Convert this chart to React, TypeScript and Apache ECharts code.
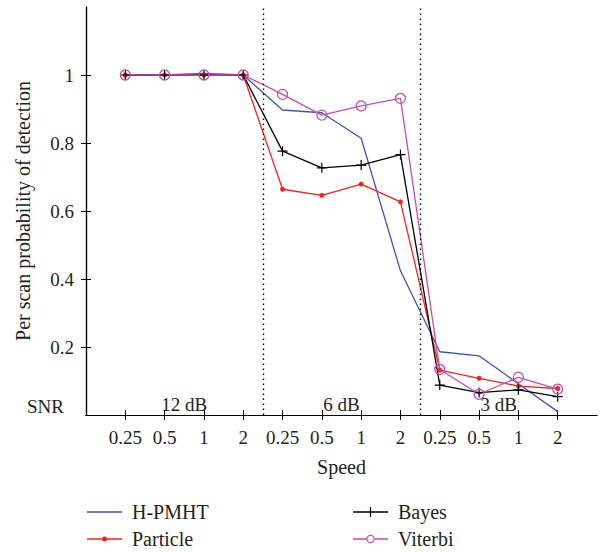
import React, { useEffect, useRef } from "react";
import * as echarts from "echarts";

const speedLabels = ["0.25", "0.5", "1", "2"];
const snrLabels = ["12 dB", "6 dB", "3 dB"];
const snrCenters = [2.5, 6.5, 10.5];
const snrLabelY = 0.03;
const xPositions = [1, 2, 3, 4, 5, 6, 7, 8, 9, 10, 11, 12];
const yTicks = [0.2, 0.4, 0.6, 0.8, 1];
const separators = [4.5, 8.5];

const hpmht = [1.0, 1.0, 1.005, 1.0, 0.897, 0.889, 0.814, 0.424, 0.186, 0.174, 0.092, 0.01];
const particle = [1.0, 1.0, 1.0, 1.0, 0.664, 0.646, 0.679, 0.627, 0.132, 0.108, 0.085, 0.078];
const bayes = [1.0, 1.0, 1.0, 1.0, 0.776, 0.727, 0.735, 0.766, 0.088, 0.066, 0.074, 0.054];
const viterbi = [1.0, 1.0, 1.0, 1.0, 0.943, 0.882, 0.909, 0.931, 0.134, 0.061, 0.111, 0.076];

const FONT = "Liberation Serif, DejaVu Serif, serif";
const TXT = "#231f20";
const BLUE = "#3a55b0";
const RED = "#f52222";
const BLACK = "#000000";
const MAGENTA = "#c050b0";
const PLUS = "path://M-0.6,-5H0.6V-0.6H5V0.6H0.6V5H-0.6V0.6H-5V-0.6H-0.6Z";

const ICON_LINE = "path://M0,0H35V1.3H0Z";
const ICON_DOT =
  "path://M0,1.85H35V3.15H0Z M15,2.5a2.5,2.5 0 1,1 5,0a2.5,2.5 0 1,1 -5,0Z";
const ICON_PLUS =
  "path://M0,4.35H35V5.65H0Z M16.9,0H18.1V10H16.9Z M12.5,4.4H22.5V5.6H12.5Z";
const ICON_RING =
  "path://M0,3.35H13.3V4.65H0Z M21.7,3.35H35V4.65H21.7Z M13.3,4a4.2,4.2 0 1,0 8.4,0a4.2,4.2 0 1,0 -8.4,0Z M14.5,4a3,3 0 1,1 6,0a3,3 0 1,1 -6,0Z";

export default function App() {
  const ref = useRef<HTMLDivElement>(null);
  useEffect(() => {
    if (!ref.current) return;
    const chart = echarts.init(ref.current, null, { renderer: "svg" });
    const pts = (arr: number[]) => arr.map((v, i) => [xPositions[i], v]);
    const legendText = {
      fontFamily: FONT,
      fontSize: 20,
      color: TXT,
      rich: {
        g: { width: 5, fontFamily: FONT, fontSize: 20 },
        n: { fontFamily: FONT, fontSize: 20, color: TXT },
      },
    };
    const mkLegend = (name: string, icon: string, color: string, left: number, top: number) => ({
      data: [{ name, icon, itemStyle: { color, borderWidth: 0 } }],
      orient: "vertical",
      left,
      top,
      padding: 0,
      itemWidth: 35,
      itemHeight: 14,
      itemGap: 0,
      formatter: (n: string) => `{g| }{n|${n}}`,
      textStyle: legendText,
    });
    chart.setOption({
      animation: false,
      backgroundColor: "#ffffff",
      textStyle: { fontFamily: FONT },
      grid: { left: 86, right: 13, top: 7, bottom: 137, show: false },
      legend: [
        mkLegend("H-PMHT", ICON_LINE, BLUE, 87, 502),
        mkLegend("Particle", ICON_DOT, RED, 87, 529),
        mkLegend("Bayes", ICON_PLUS, BLACK, 353, 502),
        mkLegend("Viterbi", ICON_RING, MAGENTA, 353, 529),
      ],
      xAxis: [
        {
          type: "value",
          min: 0,
          max: 13,
          interval: 1,
          name: "Speed",
          nameLocation: "middle",
          nameGap: 42,
          nameTextStyle: { fontFamily: FONT, fontSize: 20, color: TXT },
          axisLine: { show: true, lineStyle: { color: "#000", width: 1.2 } },
          axisTick: { show: true, length: 5, customValues: xPositions, lineStyle: { color: "#000" } },
          axisLabel: {
            customValues: xPositions,
            margin: 13,
            fontFamily: FONT,
            fontSize: 19,
            color: TXT,
            formatter: (v: number) => speedLabels[(Math.round(v) - 1) % 4],
          },
          splitLine: { show: false },
        },
        {
          type: "value",
          position: "top",
          min: 0,
          max: 13,
          interval: 1,
          axisLine: { show: true, lineStyle: { color: "#000", width: 1.2 } },
          axisTick: { show: true, length: 5, customValues: xPositions, lineStyle: { color: "#000" } },
          axisLabel: { show: false },
          splitLine: { show: false },
        },
      ],
      yAxis: [
        {
          type: "value",
          min: 0,
          max: 1.2,
          interval: 0.2,
          name: "Per scan probability of detection",
          nameLocation: "middle",
          nameGap: 53,
          nameTextStyle: { fontFamily: FONT, fontSize: 20, color: TXT },
          axisLine: { show: true, lineStyle: { color: "#000", width: 1.2 } },
          axisTick: { show: true, length: 5, customValues: yTicks, lineStyle: { color: "#000" } },
          axisLabel: {
            customValues: yTicks,
            margin: 12,
            fontFamily: FONT,
            fontSize: 19,
            color: TXT,
            formatter: (v: number) => String(Math.round(v * 10) / 10),
          },
          splitLine: { show: false },
        },
        {
          type: "value",
          position: "right",
          min: 0,
          max: 1.2,
          interval: 0.2,
          axisLine: { show: true, lineStyle: { color: "#000", width: 1.2 } },
          axisTick: { show: true, length: 5, customValues: yTicks, lineStyle: { color: "#000" } },
          axisLabel: { show: false },
          splitLine: { show: false },
        },
      ],
      series: [
        {
          name: "H-PMHT",
          type: "line",
          data: pts(hpmht),
          symbol: "none",
          lineStyle: { color: BLUE, width: 1.3 },
          itemStyle: { color: BLUE },
          markLine: {
            silent: true,
            symbol: "none",
            label: { show: false },
            lineStyle: { color: "#000", type: [1.5, 3.5], width: 1.4 },
            data: separators.map((x) => ({ xAxis: x })),
          },
        },
        {
          name: "Particle",
          type: "line",
          data: pts(particle),
          symbol: "circle",
          symbolSize: 5,
          lineStyle: { color: RED, width: 1.3 },
          itemStyle: { color: RED },
        },
        {
          name: "Bayes",
          type: "line",
          data: pts(bayes),
          symbol: PLUS,
          symbolSize: 10,
          lineStyle: { color: BLACK, width: 1.3 },
          itemStyle: { color: BLACK },
        },
        {
          name: "Viterbi",
          type: "line",
          data: pts(viterbi),
          symbol: "circle",
          symbolSize: 10,
          lineStyle: { color: MAGENTA, width: 1.3 },
          itemStyle: { color: "rgba(0,0,0,0)", borderColor: MAGENTA, borderWidth: 1.3 },
        },
      ],
    });
    const texts: any[] = [
      {
        type: "text",
        left: 27,
        top: 397,
        style: { text: "SNR", font: `19px ${FONT}`, fill: TXT },
      },
    ];
    snrCenters.forEach((x, i) => {
      const p = chart.convertToPixel({ gridIndex: 0 }, [x, snrLabelY]) as number[];
      texts.push({
        type: "text",
        x: p[0],
        y: p[1],
        z: 0,
        style: {
          text: snrLabels[i],
          font: `19px ${FONT}`,
          fill: TXT,
          align: "center",
          verticalAlign: "middle",
        },
      });
    });
    chart.setOption({ graphic: texts });
    return () => chart.dispose();
  }, []);
  return (
    <div
      ref={ref}
      style={{ position: "absolute", left: 0, top: 0, width: 610, height: 552, background: "#fff" }}
    />
  );
}
